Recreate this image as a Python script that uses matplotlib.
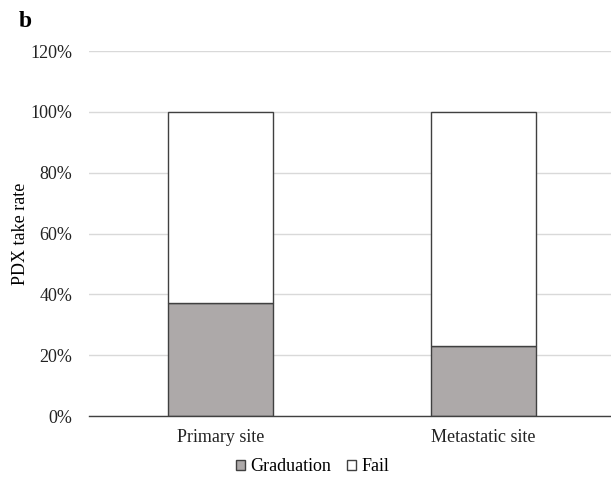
import matplotlib
matplotlib.use("Agg")
import matplotlib.pyplot as plt
import matplotlib.ticker as ticker
from matplotlib.patches import Patch

# ── Données ──────────────────────────────────────────────────────────────────
sites = ["Primary site", "Metastatic site"]
graduation = [0.37, 0.23]
fail = [0.63, 0.77]
yticks = [0, 0.2, 0.4, 0.6, 0.8, 1.0, 1.2]

plt.rcParams["font.family"] = ["Liberation Serif", "DejaVu Serif"]

fig = plt.figure(figsize=(6.11, 4.8), dpi=100)
ax = fig.add_axes([0.1457, 0.1333, 0.8543, 0.7604])

x = range(len(sites))
ax.bar(x, graduation, width=0.40, color="#ada9a9", edgecolor="#404040",
       linewidth=1.0, label="Graduation", zorder=3)
ax.bar(x, fail, bottom=graduation, width=0.40, color="white",
       edgecolor="#404040", linewidth=1.0, label="Fail", zorder=3)

ax.set_xlim(-0.5, 1.485)
ax.set_ylim(0, 1.2)
ax.set_yticks(yticks)
ax.yaxis.set_major_formatter(ticker.PercentFormatter(xmax=1, decimals=0))
ax.set_xticks(list(x))
ax.set_xticklabels(sites)
ax.tick_params(axis="both", length=0, labelsize=13, colors="#222222")
ax.tick_params(axis="y", pad=12)
ax.tick_params(axis="x", pad=9)
ax.grid(axis="y", color="#d9d9d9", linewidth=1.0, zorder=0)

for s in ("top", "right", "left"):
    ax.spines[s].set_visible(False)
ax.spines["bottom"].set_color("#404040")
ax.spines["bottom"].set_linewidth(1.0)
ax.spines["bottom"].set_zorder(4)

ax.set_ylabel("PDX take rate", fontsize=13, labelpad=1)

handles = [Patch(facecolor="#ada9a9", edgecolor="#404040", label="Graduation"),
           Patch(facecolor="white", edgecolor="#404040", label="Fail")]
fig.legend(handles=handles, loc="center", bbox_to_anchor=(0.512, 0.028),
           ncol=2, frameon=False, fontsize=13, handlelength=0.5,
           handleheight=0.5, handletextpad=0.3, columnspacing=0.9)

fig.text(0.03, 0.955, "b", fontsize=17, fontweight="bold", va="center")

fig.savefig("out.png", dpi=100)
